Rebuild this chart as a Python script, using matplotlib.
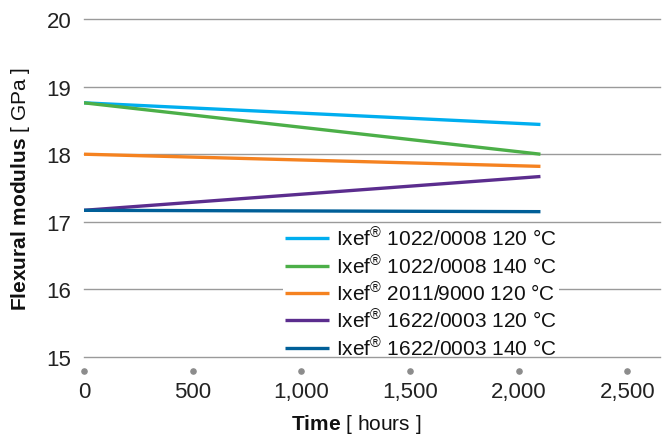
import matplotlib.pyplot as plt

plt.rcParams['font.family'] = ['Liberation Sans', 'DejaVu Sans']
plt.rcParams['mathtext.fontset'] = 'custom'
plt.rcParams['mathtext.rm'] = 'Liberation Sans'
plt.rcParams['mathtext.it'] = 'Liberation Sans'
plt.rcParams['mathtext.bf'] = 'Liberation Sans:bold'

# data
hours = [0, 2100]
ixef_1022_120 = [18.76, 18.44]
ixef_1022_140 = [18.76, 18.00]
ixef_2011_120 = [18.00, 17.82]
ixef_1622_120 = [17.17, 17.67]
ixef_1622_140 = [17.17, 17.15]

labels = ['Ixef$^{®}$ 1022/0008 120 °C',
          'Ixef$^{®}$ 1022/0008 140 °C',
          'Ixef$^{®}$ 2011/9000 120 °C',
          'Ixef$^{®}$ 1622/0003 120 °C',
          'Ixef$^{®}$ 1622/0003 140 °C']
colors = ['#00aeef', '#4caf48', '#f58220', '#5b2d8e', '#005f98']

x_ticks = [0, 500, 1000, 1500, 2000, 2500]
x_ticklabels = ['0', '500', '1,000', '1,500', '2,000', '2,500']
y_ticks = [15, 16, 17, 18, 19, 20]

fig = plt.figure(figsize=(6.7, 4.39), dpi=100)
ax = fig.add_axes([84/670, 81/439, 576/670, 338/439])

series = [ixef_1022_120, ixef_1022_140, ixef_2011_120, ixef_1622_120, ixef_1622_140]
for s, c, l in zip(series, colors, labels):
    ax.plot(hours, s, color=c, lw=2.4, label=l, solid_capstyle='butt', zorder=3)

for y in y_ticks:
    # 15 and 17 sit on top of the legend box, 16 is hidden behind it
    z = 5 if y in (15, 17) else 1
    ax.axhline(y, color='#9a9a9a', lw=1.0, zorder=z, clip_on=False)

ax.set_xlim(0, 2650)
ax.set_ylim(15, 20)
for sp in ax.spines.values():
    sp.set_visible(False)

ax.set_yticks(y_ticks)
ax.set_xticks(x_ticks)
ax.set_xticklabels(x_ticklabels)
ax.tick_params(axis='both', length=0, labelsize=16, labelcolor='#222222')
ax.tick_params(axis='y', pad=9)
ax.tick_params(axis='x', pad=17)

# little grey dots below the axis at every tick
ax.scatter(x_ticks, [14.79] * len(x_ticks), s=14, color='#8c8c8c', clip_on=False, zorder=3)

ax.text(1250, 14.02, r'$\mathbf{Time}$ [ hours ]', ha='center', va='center',
        fontsize=15, color='#111111')
ax.text(-0.111, 0.5, r'$\mathbf{Flexural\ modulus}$ [ GPa ]', transform=ax.transAxes,
        rotation=90, ha='center', va='center', fontsize=15, color='#111111')

leg = ax.legend(loc='center', bbox_to_anchor=(0.585, 0.19), fontsize=15,
                handlelength=2.1, handletextpad=0.35, labelspacing=0.2,
                borderpad=0.1, fancybox=False, framealpha=1, edgecolor='none',
                facecolor='white')
leg.set_zorder(4)
for t in leg.get_texts():
    t.set_color('#111111')

fig.savefig('out.png', dpi=100)
